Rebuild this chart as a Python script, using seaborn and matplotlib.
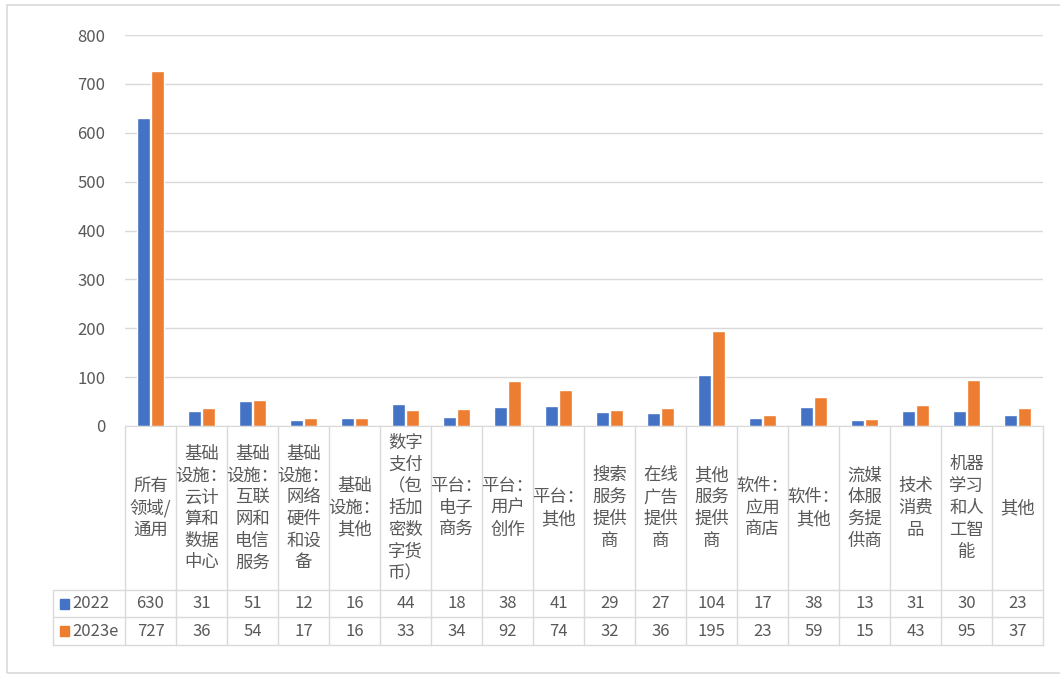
import pandas as pd
import seaborn as sns
import matplotlib.pyplot as plt
from matplotlib import transforms
from matplotlib.patches import Rectangle

# Données
categories = ["所有\n领域/\n通用", "基础\n设施：\n云计\n算和\n数据\n中心", "基础\n设施：\n互联\n网和\n电信\n服务",
              "基础\n设施：\n网络\n硬件\n和设\n备", "基础\n设施：\n其他", "数字\n支付\n（包\n括加\n密数\n字货\n币）",
              "平台：\n电子\n商务", "平台：\n用户\n创作", "平台：\n其他", "搜索\n服务\n提供\n商",
              "在线\n广告\n提供\n商", "其他\n服务\n提供\n商", "软件：\n应用\n商店", "软件：\n其他",
              "流媒\n体服\n务提\n供商", "技术\n消费\n品", "机器\n学习\n和人\n工智\n能", "其他"]
series_names = ["2022", "2023e"]
values_2022 = [630, 31, 51, 12, 16, 44, 18, 38, 41, 29, 27, 104, 17, 38, 13, 31, 30, 23]
values_2023 = [727, 36, 54, 17, 16, 33, 34, 92, 74, 32, 36, 195, 23, 59, 15, 43, 95, 37]
yticks = [0, 100, 200, 300, 400, 500, 600, 700, 800]

colors = ["#4472C4", "#ED7D31"]
grey_txt = "#595959"
grid_col = "#D9D9D9"

df = pd.DataFrame({
    "cat": list(range(len(categories))) * 2,
    "val": values_2022 + values_2023,
    "year": [series_names[0]] * len(categories) + [series_names[1]] * len(categories),
})

sns.set_style("white")
plt.rcParams["font.family"] = ["Noto Sans CJK SC", "DejaVu Sans"]

W, H = 1060, 678
fig = plt.figure(figsize=(W / 100, H / 100), dpi=100)
# zone de tracé (pixels: x 125-1043, y 35-426)
ax = fig.add_axes([125 / W, 1 - 426 / H, 918 / W, 391 / H])
sns.barplot(data=df, x="cat", y="val", hue="year", palette=colors, width=0.54, gap=0.08,
            ax=ax, legend=False, saturation=1)
ax.set_xlim(-0.5, len(categories) - 0.5)
ax.set_ylim(0, 800)
ax.set_yticks(yticks)
ax.set_yticklabels([str(v) for v in yticks], color=grey_txt, fontsize=12)
ax.tick_params(axis="y", length=0, pad=14)
ax.set_xticks([])
ax.set_xlabel("")
ax.set_ylabel("")
ax.grid(axis="y", color=grid_col, linewidth=1)
ax.set_axisbelow(True)
for s in ["top", "right", "left"]:
    ax.spines[s].set_visible(False)
ax.spines["bottom"].set_color(grid_col)

# Tableau de données sous le graphique
trans = transforms.blended_transform_factory(ax.transData, ax.transAxes)
def ya(p):
    return (426 - p) / 391

n = len(categories)
x_leg = -0.5 + (53 - 125) / 51
for i in range(n + 1):
    ax.plot([i - 0.5, i - 0.5], [ya(426), ya(645)], color=grid_col, lw=1, transform=trans, clip_on=False)
ax.plot([x_leg, x_leg], [ya(590), ya(645)], color=grid_col, lw=1, transform=trans, clip_on=False)
for p in [590, 617, 645]:
    ax.plot([x_leg, n - 0.5], [ya(p), ya(p)], color=grid_col, lw=1, transform=trans, clip_on=False)

for i, lab in enumerate(categories):
    ax.text(i, ya(508), lab, ha="center", va="center", fontsize=12.5, color=grey_txt,
            linespacing=1.27, transform=trans, clip_on=False)
    ax.text(i, ya(604), str(values_2022[i]), ha="center", va="center", fontsize=12,
            color=grey_txt, transform=trans, clip_on=False)
    ax.text(i, ya(631), str(values_2023[i]), ha="center", va="center", fontsize=12,
            color=grey_txt, transform=trans, clip_on=False)

# légende dans le tableau
for name, col, p in zip(series_names, colors, [604, 631]):
    fig.add_artist(Rectangle((60 / W, 1 - (p + 5) / H), 9 / W, 10 / H, color=col,
                             transform=fig.transFigure))
    fig.text(72 / W, 1 - p / H, name, ha="left", va="center", fontsize=12, color=grey_txt)

# cadre extérieur
fig.add_artist(Rectangle((7 / W, 1 - 673 / H), 1 - 7 / W + 0.01, (673 - 5) / H, fill=False,
                         edgecolor=grid_col, lw=1.2, transform=fig.transFigure))

fig.savefig("out.png", dpi=100)
